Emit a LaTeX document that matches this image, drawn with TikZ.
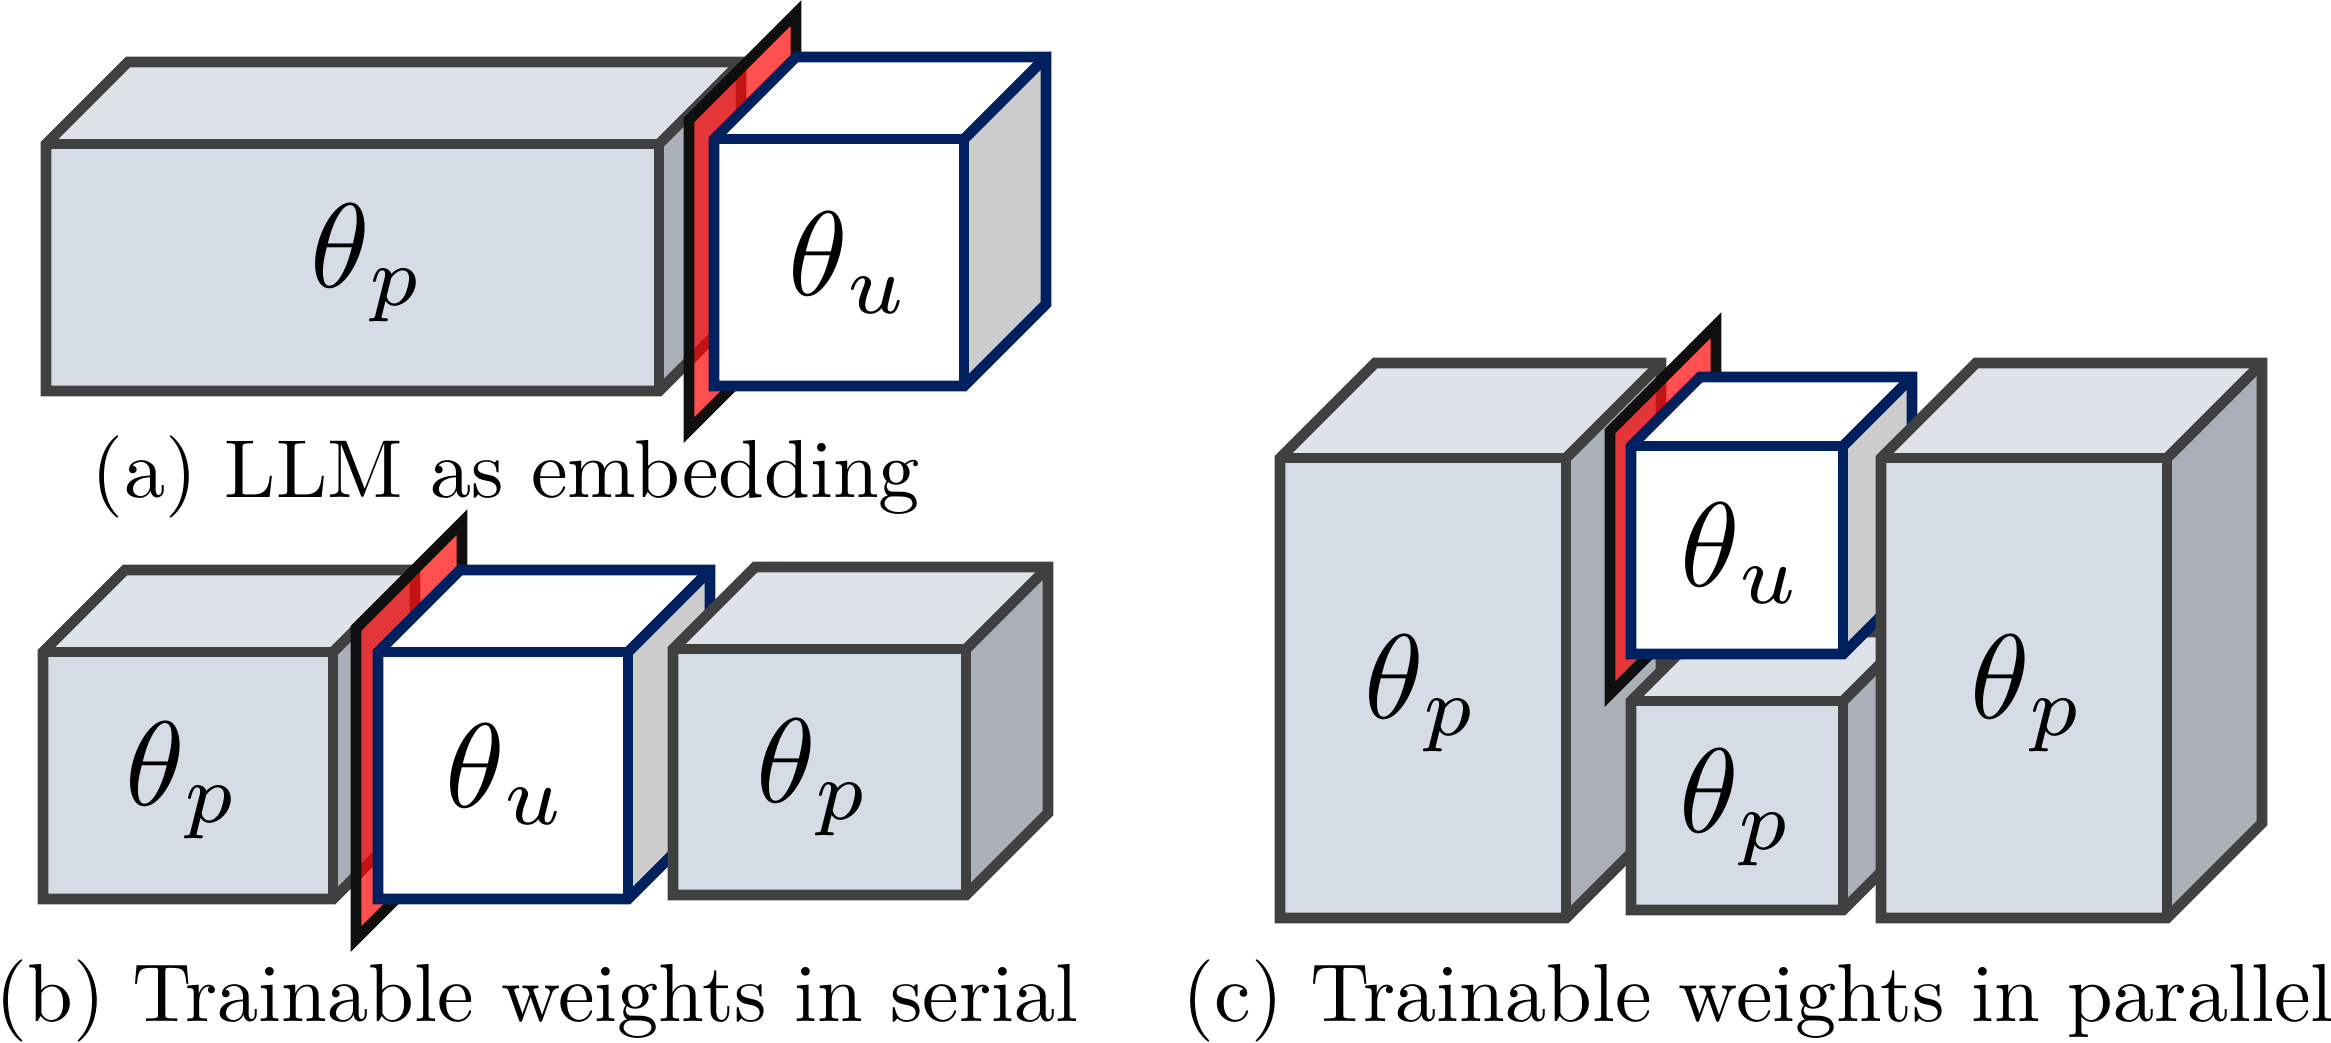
\documentclass[tikz,border=0pt]{standalone}
\definecolor{gline}{HTML}{404040}
\definecolor{gfront}{HTML}{D6DCE5}
\definecolor{gtop}{HTML}{DEE3EA}
\definecolor{gside}{HTML}{ABB0B8}
\definecolor{uline}{HTML}{002060}
\definecolor{uside}{HTML}{CCCCCC}
\definecolor{pline}{HTML}{0F0F0F}
\newcommand{\cuboid}[6]{%
  % #1 kind (g/u), #2 left, #3 top, #4 right, #5 bottom, #6 depth
  \pgfmathsetmacro{\bx}{#4+#6}\pgfmathsetmacro{\by}{#3-#6}%
  \pgfmathsetmacro{\lx}{#2+#6}\pgfmathsetmacro{\ry}{#5-#6}%
  \fill[#1topf] (#2,#3) -- (\lx,\by) -- (\bx,\by) -- (#4,#3) -- cycle;
  \fill[#1sidef] (#4,#3) -- (\bx,\by) -- (\bx,\ry) -- (#4,#5) -- cycle;
  \fill[#1frontf] (#2,#3) rectangle (#4,#5);
  \draw[#1outline] (#2,#5) -- (#2,#3) -- (\lx,\by) -- (\bx,\by) -- (\bx,\ry) -- (#4,#5) -- cycle;
  \draw[#1outline] (#2,#3) -- (#4,#3) -- (#4,#5);
  \draw[#1outline] (#4,#3) -- (\bx,\by);
}
\newcommand{\plane}[4]{%
  % #1 left, #2 right, #3 upper-left y, #4 lower-left y
  \pgfmathsetmacro{\ty}{#3-(#2-#1)}\pgfmathsetmacro{\by}{#4-(#2-#1)}%
  \draw[planef] (#1,#3) -- (#2,\ty) -- (#2,\by) -- (#1,#4) -- cycle;
}
\tikzset{
  faceline/.style={line width=5.3pt,line join=miter,miter limit=10},
  goutline/.style={faceline,draw=gline},
  uoutline/.style={faceline,draw=uline},
  gtopf/.style={fill=gtop},
  gsidef/.style={fill=gside},
  gfrontf/.style={fill=gfront},
  utopf/.style={fill=white},
  usidef/.style={fill=uside},
  ufrontf/.style={fill=white},
  planef/.style={faceline,draw=pline,fill=red,fill opacity=.69,draw opacity=1},
  sym/.style={anchor=base west,inner sep=0pt,scale=6.0},
  captext/.style={anchor=base,inner sep=0pt,scale=4.115},
}
\newcommand{\thp}{$\theta_{\mkern0.5mu p}$}
\newcommand{\thu}{$\theta_{\mkern0.5mu u}$}
\begin{document}
\begin{tikzpicture}[x=0.5pt,y=-0.5pt]
\useasboundingbox (0,0) rectangle (2331,1043);
% panel a
\cuboid{g}{46}{144}{659}{391}{82}
\plane{689}{796}{120}{430}
\cuboid{u}{714}{139}{964}{386}{82}
\node[sym] (ap) at (308,288) {\thp};
\node[sym] (au) at (786,296) {\thu};
\node[captext] (capa) at (506,497) {(a) LLM as embedding};
% panel b
\cuboid{g}{43}{652}{333}{899}{82}
\plane{356}{462}{628}{939}
\cuboid{u}{378}{652}{628}{899}{82}
\cuboid{g}{673}{649}{966}{895}{82}
\node[sym] (bp) at (123,805) {\thp};
\node[sym] (bu) at (443,807) {\thu};
\node[sym] (bq) at (754,802) {\thp};
\node[captext] (capb) at (537,1021) {(b) Trainable weights in serial};
% panel c
\cuboid{g}{1280}{458}{1566}{918}{95}
\cuboid{g}{1631}{701}{1843}{910}{69}
\plane{1610}{1716}{431}{694}
\cuboid{u}{1631}{446}{1843}{654}{69}
\cuboid{g}{1881}{458}{2167}{918}{95}
\node[sym] (cp) at (1362,718) {\thp};
\node[sym] (cu) at (1678,586) {\thu};
\node[sym] (cq) at (1677,832) {\thp};
\node[sym] (cr) at (1968,718) {\thp};
\node[captext] (capc) at (1758,1021) {(c) Trainable weights in parallel};
\end{tikzpicture}
\end{document}
